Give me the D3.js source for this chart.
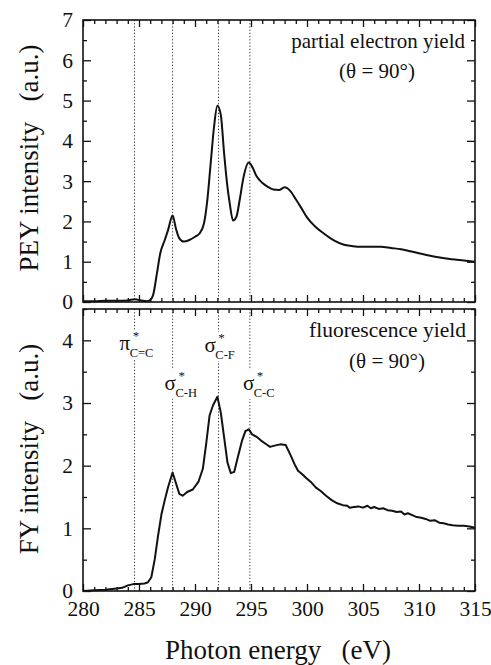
<!DOCTYPE html>
<html><head><meta charset="utf-8">
<script src="https://cdn.jsdelivr.net/npm/d3@7"></script>
<style>
body{margin:0;background:#fff;}
svg text{font-family:"Liberation Serif","DejaVu Serif","Times New Roman",serif !important;fill:#111;}
</style></head>
<body><svg id="c" width="491" height="665"></svg>
<script>
// ---- data ----
const peyEnergy = [280.0,281.0,282.0,283.0,284.0,284.6,285.2,285.7,286.0,286.3,286.6,286.9,287.3,287.6,288.0,288.3,288.6,289.0,289.5,290.0,290.4,290.8,291.1,291.4,291.7,292.0,292.3,292.6,292.9,293.1,293.4,293.7,294.0,294.3,294.8,295.1,295.5,296.0,296.5,297.0,297.5,298.0,298.5,299.0,299.5,300.0,300.7,301.5,302.4,303.3,304.0,304.8,305.6,306.6,307.5,308.4,309.2,310.0,311.0,312.0,312.9,314.0,315.0];
const peyValue  = [0.02,0.02,0.03,0.03,0.04,0.07,0.04,0.02,0.05,0.22,0.71,1.21,1.54,1.79,2.15,1.82,1.58,1.50,1.54,1.62,1.70,1.95,2.53,3.44,4.35,4.87,4.65,3.69,2.85,2.45,2.02,2.12,2.55,3.05,3.46,3.36,3.12,2.96,2.86,2.79,2.78,2.85,2.76,2.55,2.33,2.10,1.88,1.70,1.53,1.42,1.39,1.37,1.37,1.37,1.34,1.31,1.26,1.21,1.15,1.10,1.06,1.03,1.00];

const fyEnergy = [280.0,281.0,282.0,283.0,283.5,284.0,284.5,285.0,285.5,285.8,286.1,286.4,286.7,287.0,287.3,287.6,288.0,288.3,288.6,288.9,289.3,289.8,290.3,290.7,291.0,291.3,291.6,292.0,292.3,292.6,292.9,293.2,293.5,293.8,294.2,294.5,294.8,295.1,295.5,295.9,296.3,296.7,297.1,297.6,298.1,298.5,298.9,299.2,299.6,300.0,300.4,300.8,301.2,301.7,302.2,302.7,303.2,303.6,303.8,304.2,304.6,305.0,305.4,305.7,306.0,306.4,306.8,307.2,307.6,308.0,308.4,308.7,309.0,309.4,309.8,310.2,310.6,311.0,311.4,311.8,312.2,312.6,313.0,313.5,314.0,314.5,315.0];
const fyValue  = [0.00,0.01,0.02,0.04,0.05,0.09,0.11,0.11,0.12,0.14,0.22,0.50,0.88,1.22,1.45,1.66,1.89,1.72,1.55,1.52,1.58,1.62,1.74,1.95,2.35,2.80,2.96,3.10,2.85,2.45,2.05,1.88,1.90,2.12,2.40,2.55,2.58,2.50,2.46,2.40,2.35,2.30,2.32,2.34,2.33,2.18,2.02,1.92,1.86,1.79,1.73,1.65,1.60,1.52,1.45,1.40,1.37,1.36,1.33,1.34,1.35,1.33,1.36,1.32,1.34,1.31,1.32,1.29,1.28,1.26,1.27,1.22,1.24,1.21,1.18,1.17,1.15,1.12,1.13,1.09,1.08,1.06,1.05,1.04,1.04,1.03,1.01];

const markerEnergy = [284.6, 288.0, 292.1, 294.9];
const markerSymbol = ["π", "σ", "σ", "σ"];
const markerSub    = ["C=C", "C-H", "C-F", "C-C"];

const xTickLabels = [280,285,290,295,300,305,310,315];
const peyTickLabels = [0,1,2,3,4,5,6,7];
const fyTickLabels = [0,1,2,3,4];

const peyTitle = "PEY intensity   (a.u.)";
const fyTitle = "FY intensity   (a.u.)";
const xTitle = "Photon energy   (eV)";
const peyNote = ["partial electron yield", "(θ = 90°)"];
const fyNote = ["fluorescence yield", "(θ = 90°)"];

// ---- layout ----
const FONT = "'Liberation Serif', 'DejaVu Serif', 'Times New Roman', serif";
const svg = d3.select("#c");
const X0 = 83, X1 = 475;
const x = d3.scaleLinear().domain([280,315]).range([X0,X1]);
const yTop = d3.scaleLinear().domain([0,7]).range([302,20]);
const yBot = d3.scaleLinear().domain([0,4.5]).range([591,309]);

function panel(y, yMajor, minorStep, showXLabels){
  const g = svg.append("g");
  const [yb, yt] = y.range();
  const xMinor = d3.range(280,315.01,1).filter(v=>v%5!==0);
  const yMax = y.domain()[1];
  const yMinor = d3.range(0, yMax+0.001, minorStep).filter(v=>Math.abs(v-Math.round(v))>1e-6);
  const style = s => s.attr("font-family",FONT)
                      .call(a=>a.select(".domain").remove())
                      .call(a=>a.selectAll("line").attr("stroke","#111").attr("stroke-width",1.3));
  // bottom
  g.append("g").attr("transform",`translate(0,${yb})`)
    .call(d3.axisBottom(x).tickValues(xTickLabels).tickSize(-7).tickPadding(10)
      .tickFormat(showXLabels? d3.format("d") : ""))
    .call(style).call(a=>a.selectAll("text").attr("font-size",21.5).attr("fill","#111"));
  g.append("g").attr("transform",`translate(0,${yb})`)
    .call(d3.axisBottom(x).tickValues(xMinor).tickSize(-4).tickFormat("")).call(style);
  // top
  g.append("g").attr("transform",`translate(0,${yt})`)
    .call(d3.axisTop(x).tickValues(xTickLabels).tickSize(-7).tickFormat("")).call(style);
  g.append("g").attr("transform",`translate(0,${yt})`)
    .call(d3.axisTop(x).tickValues(xMinor).tickSize(-4).tickFormat("")).call(style);
  // left
  g.append("g").attr("transform",`translate(${X0},0)`)
    .call(d3.axisLeft(y).tickValues(yMajor).tickSize(-8).tickPadding(10).tickFormat(d3.format("d")))
    .call(style).call(a=>a.selectAll("text").attr("font-size",21.5).attr("fill","#111"));
  g.append("g").attr("transform",`translate(${X0},0)`)
    .call(d3.axisLeft(y).tickValues(yMinor).tickSize(-4).tickFormat("")).call(style);
  // right
  g.append("g").attr("transform",`translate(${X1},0)`)
    .call(d3.axisRight(y).tickValues(yMajor).tickSize(-8).tickFormat("")).call(style);
  g.append("g").attr("transform",`translate(${X1},0)`)
    .call(d3.axisRight(y).tickValues(yMinor).tickSize(-4).tickFormat("")).call(style);
  // frame
  g.append("rect").attr("x",X0).attr("y",yt).attr("width",X1-X0).attr("height",yb-yt)
    .attr("fill","none").attr("stroke","#111").attr("stroke-width",1.6);
  return g;
}

// dotted marker lines
function markers(y){
  const [yb, yt] = y.range();
  svg.append("g").selectAll("line").data(markerEnergy).join("line")
    .attr("x1",d=>x(d)).attr("x2",d=>x(d)).attr("y1",yt).attr("y2",yb)
    .attr("stroke","#333").attr("stroke-width",1).attr("stroke-dasharray","1.2,2");
}
markers(yTop);
markers(yBot);

panel(yTop, peyTickLabels, 0.5, false);
panel(yBot, fyTickLabels, 0.5, true);

// curves
svg.append("path").datum(peyEnergy.map((e,i)=>[e,peyValue[i]]))
  .attr("d", d3.line().x(d=>x(d[0])).y(d=>yTop(d[1])).curve(d3.curveMonotoneX))
  .attr("fill","none").attr("stroke","#111").attr("stroke-width",2);
svg.append("path").datum(fyEnergy.map((e,i)=>[e,fyValue[i]]))
  .attr("d", d3.line().x(d=>x(d[0])).y(d=>yBot(d[1])))
  .attr("fill","none").attr("stroke","#111").attr("stroke-width",2).attr("stroke-linejoin","round");

// marker labels in lower panel (with white knockout)
const labLayout = [
  {dx:-15, base:350},
  {dx:-8,  base:390},
  {dx:-14, base:352},
  {dx:-7,  base:390}
];
markerEnergy.forEach((e,i)=>{
  const L = labLayout[i];
  const gx = x(e) + L.dx;
  const g = svg.append("g").attr("font-family",FONT);
  const bg = g.append("rect").attr("fill","#fff");
  const sym = g.append("text").attr("x",gx).attr("y",L.base).attr("font-size",21).text(markerSymbol[i]);
  const sw = sym.node().getComputedTextLength();
  g.append("text").attr("x",gx+sw-0.5).attr("y",L.base+7).attr("font-size",12.5).text(markerSub[i]);
  g.append("text").attr("x",gx+sw+2.5).attr("y",L.base-10).attr("font-size",13).text("*");
  const bb = g.node().getBBox();
  bg.attr("x",bb.x).attr("y",bb.y+2).attr("width",bb.width).attr("height",bb.height-3);
});

// notes
svg.append("text").attr("x",465).attr("y",48).attr("text-anchor","end").attr("font-size",21).text(peyNote[0]);
svg.append("text").attr("x",377).attr("y",78).attr("text-anchor","middle").attr("font-size",21).text(peyNote[1]);
svg.append("text").attr("x",466).attr("y",337).attr("text-anchor","end").attr("font-size",21.5).text(fyNote[0]);
svg.append("text").attr("x",387).attr("y",368).attr("text-anchor","middle").attr("font-size",21).text(fyNote[1]);

// axis titles
svg.append("text").attr("transform","translate(38,158) rotate(-90)").attr("text-anchor","middle").attr("font-size",27).style("white-space","pre").text(peyTitle);
svg.append("text").attr("transform","translate(38,449) rotate(-90)").attr("text-anchor","middle").attr("font-size",27).style("white-space","pre").text(fyTitle);
svg.append("text").attr("x",278).attr("y",659).attr("text-anchor","middle").attr("font-size",27).style("white-space","pre").text(xTitle);

svg.selectAll("text").style("font-family", FONT);
</script></body></html>
